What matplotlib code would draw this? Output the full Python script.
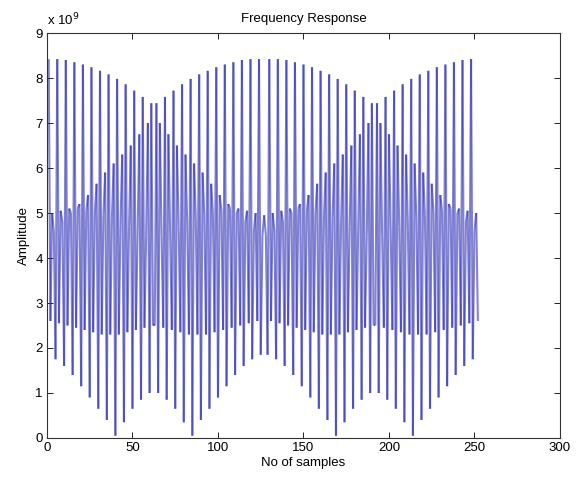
import numpy as np
import matplotlib
matplotlib.use('Agg')
import matplotlib.pyplot as plt
from matplotlib.collections import LineCollection

plt.rcParams['font.family'] = ['Liberation Sans', 'DejaVu Sans']
plt.rcParams['font.size'] = 9.5

# amplitude of each sample, in units of 1e9
amplitude = [
    8.42, 2.6, 5.0, 4.6, 1.75, 8.42, 2.55, 5.05, 4.8, 1.6,
    8.40, 2.5, 5.1, 5.0, 1.4, 8.35, 2.45, 5.1, 5.2, 1.15,
    8.30, 2.4, 5.05, 5.4, 0.9, 8.24, 2.35, 5.0, 5.65, 0.65,
    8.16, 2.3, 4.95, 5.9, 0.4, 8.08, 2.3, 4.9, 6.1, 0.05,
    7.98, 2.3, 4.8, 6.3, 0.35, 7.86, 2.35, 4.7, 6.5, 0.65,
    7.72, 2.4, 4.6, 6.75, 0.85, 7.58, 2.45, 4.5, 7.0, 1.0,
    7.44, 2.5,
    2.5, 7.44, 1.0, 7.0, 4.5, 2.45, 7.58, 0.85, 6.75, 4.6,
    2.4, 7.72, 0.65, 6.5, 4.7, 2.35, 7.86, 0.35, 6.3, 4.8,
    2.3, 7.98, 0.05, 6.1, 4.9, 2.3, 8.08, 0.4, 5.9, 4.95,
    2.3, 8.16, 0.65, 5.65, 5.0, 2.35, 8.24, 0.9, 5.4, 5.05,
    2.4, 8.30, 1.15, 5.2, 5.1, 2.45, 8.35, 1.4, 5.0, 5.1,
    2.5, 8.40, 1.6, 4.8, 5.05, 2.55, 8.42, 1.75, 4.6, 5.0,
    2.6, 8.42,
    1.85, 4.5, 4.95, 4.5, 1.85,
    8.42, 2.6, 5.0, 4.6, 1.75, 8.42, 2.55, 5.05, 4.8, 1.6,
    8.40, 2.5, 5.1, 5.0, 1.4, 8.35, 2.45, 5.1, 5.2, 1.15,
    8.30, 2.4, 5.05, 5.4, 0.9, 8.24, 2.35, 5.0, 5.65, 0.65,
    8.16, 2.3, 4.95, 5.9, 0.4, 8.08, 2.3, 4.9, 6.1, 0.05,
    7.98, 2.3, 4.8, 6.3, 0.35, 7.86, 2.35, 4.7, 6.5, 0.65,
    7.72, 2.4, 4.6, 6.75, 0.85, 7.58, 2.45, 4.5, 7.0, 1.0,
    7.44, 2.5,
    2.5, 7.44, 1.0, 7.0, 4.5, 2.45, 7.58, 0.85, 6.75, 4.6,
    2.4, 7.72, 0.65, 6.5, 4.7, 2.35, 7.86, 0.35, 6.3, 4.8,
    2.3, 7.98, 0.05, 6.1, 4.9, 2.3, 8.08, 0.4, 5.9, 4.95,
    2.3, 8.16, 0.65, 5.65, 5.0, 2.35, 8.24, 0.9, 5.4, 5.05,
    2.4, 8.30, 1.15, 5.2, 5.1, 2.45, 8.35, 1.4, 5.0, 5.1,
    2.5, 8.40, 1.6, 4.8, 5.05, 2.55, 8.42, 1.75, 4.6, 5.0,
    2.6,
]
samples = np.arange(1, len(amplitude) + 1)

x_ticks = [0, 50, 100, 150, 200, 250, 300]
y_ticks = [0, 1, 2, 3, 4, 5, 6, 7, 8, 9]

fig = plt.figure(figsize=(5.83, 4.82), dpi=100)
ax = fig.add_axes([0.0806, 0.0913, 0.8799, 0.8402])

# one segment per sample step, so overlapping strokes look darker
pts = np.column_stack([samples, amplitude])
segs = np.stack([pts[:-1], pts[1:]], axis=1)
lc = LineCollection(segs, colors='#2a2ab4', linewidths=1.5, alpha=0.58)
ax.add_collection(lc)

ax.set_xlim(0, 300)
ax.set_ylim(0, 9)
ax.set_xticks(x_ticks)
ax.set_yticks(y_ticks)
ax.tick_params(direction='in', top=True, right=True, length=4, width=0.6, pad=3)
for s in ax.spines.values():
    s.set_linewidth(0.8)
    s.set_color('#333333')

ax.set_title('Frequency Response', fontsize=9.5, pad=8)
ax.set_xlabel('No of samples', labelpad=2)
ax.set_ylabel('Amplitude', labelpad=4)
ax.text(0.0, 1.012, r'x 10$^9$', transform=ax.transAxes, fontsize=9.5,
        ha='left', va='bottom')

fig.savefig('out.png', dpi=100, facecolor='white')
